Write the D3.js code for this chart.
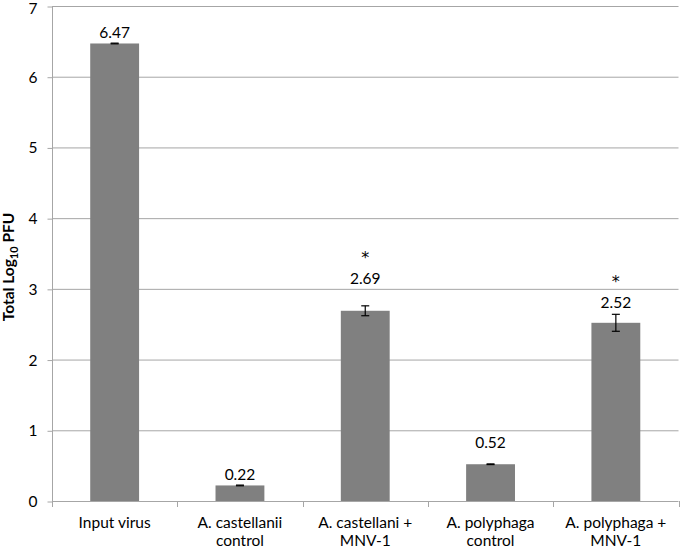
<!DOCTYPE html>
<html><head><meta charset="utf-8">
<script src="https://cdn.jsdelivr.net/npm/d3@7"></script>
<style>body{margin:0;background:#fff}svg{display:block}</style>
</head><body>
<svg id="c" width="680" height="550"></svg>
<script>
const categories = [["Input virus"],["A. castellanii","control"],["A. castellani +","MNV-1"],["A. polyphaga","control"],["A. polyphaga +","MNV-1"]];
const values = [6.47, 0.22, 2.69, 0.52, 2.52];
const errors = [0.005, 0.005, 0.07, 0.005, 0.12];
const valueLabels = ["6.47","0.22","2.69","0.52","2.52"];
const significance = ["", "", "*", "", "*"];
const yTicks = [0,1,2,3,4,5,6,7];

// layout (not data)
const labelGap = [5, 5, 22, 16, 6];
const font = "Lato, 'Liberation Sans', sans-serif";
const fs = 15.5;
const svg = d3.select("#c");
const m = {l:52};
const x = d3.scaleBand().domain(d3.range(values.length)).range([m.l, 678.5]).paddingInner(0.61).paddingOuter(0.305);
const xb = d3.scaleBand().domain(d3.range(values.length)).range([m.l, 678.5]);
const y = d3.scaleLinear().domain([0,7]).range([501, 6]);
const grid = "#a6a6a6";

// gridlines
svg.append("g").selectAll("line").data(yTicks.filter(d=>d>0)).join("line")
  .attr("x1", m.l).attr("x2", 678.5).attr("y1", d=>y(d)+0.5).attr("y2", d=>y(d)+0.5)
  .attr("stroke", grid).attr("stroke-width", 1);

// y axis
const ya = svg.append("g").attr("transform", `translate(${m.l+0.5},0.5)`)
  .call(d3.axisLeft(y).tickValues(yTicks).tickSize(5).tickPadding(10).tickFormat(d3.format("d")));
ya.select(".domain").attr("stroke", grid).attr("d", `M0,${y(7)}V${y(0)}`);
ya.selectAll(".tick line").attr("stroke", grid);
ya.selectAll(".tick text").attr("font-family", font).attr("font-size", fs).attr("fill", "#000")
  .attr("y", d => d === 7 ? 2 : 0);

// bars
svg.append("g").selectAll("rect").data(values).join("rect")
  .attr("x", (d,i)=>x(i)).attr("width", x.bandwidth())
  .attr("y", d=>y(d)).attr("height", d=>y(0)-y(d))
  .attr("fill", "#808080");

// x axis
svg.append("line").attr("x1", m.l).attr("x2", 678.5).attr("y1", y(0)+0.5).attr("y2", y(0)+0.5).attr("stroke", grid);
svg.append("g").selectAll("line").data(d3.range(values.length+1)).join("line")
  .attr("x1", i=>Math.round(m.l + i*xb.step())+0.5).attr("x2", i=>Math.round(m.l + i*xb.step())+0.5)
  .attr("y1", y(0)).attr("y2", y(0)+6).attr("stroke", grid);

// category labels
const cl = svg.append("g").selectAll("text").data(categories).join("text")
  .attr("x", (d,i)=>xb(i)+xb.bandwidth()/2).attr("y", 528)
  .attr("text-anchor","middle").attr("font-family", font).attr("font-size", fs).attr("fill","#000");
cl.each(function(d){
  d3.select(this).selectAll("tspan").data(d).join("tspan")
    .attr("x", d3.select(this).attr("x")).attr("dy", (t,j)=>j===0?0:18).text(t=>t);
});

// error bars
const eb = svg.append("g").attr("stroke","#000").attr("stroke-width",1.2);
values.forEach((v,i)=>{
  const cx = xb(i)+xb.bandwidth()/2;
  const t = y(v+errors[i]), b = y(v-errors[i]);
  eb.append("line").attr("x1",cx).attr("x2",cx).attr("y1",t).attr("y2",b);
  eb.append("line").attr("x1",cx-4).attr("x2",cx+4).attr("y1",t).attr("y2",t);
  eb.append("line").attr("x1",cx-4).attr("x2",cx+4).attr("y1",b).attr("y2",b);
});

// value labels
svg.append("g").selectAll("text").data(values).join("text")
  .attr("x",(d,i)=>xb(i)+xb.bandwidth()/2)
  .attr("y",(d,i)=>y(d+errors[i])-labelGap[i])
  .attr("text-anchor","middle").attr("font-family",font).attr("font-size",fs).attr("fill","#000")
  .text((d,i)=>valueLabels[i]);

// significance
svg.append("g").selectAll("text").data(values).join("text")
  .attr("x",(d,i)=>xb(i)+xb.bandwidth()/2)
  .attr("y",(d,i)=>y(d+errors[i])-labelGap[i]-21)
  .attr("text-anchor","middle").attr("font-family","'DejaVu Sans', sans-serif").attr("font-size",16).attr("fill","#000")
  .text((d,i)=>significance[i]);

// y title
const yt = svg.append("text").attr("transform","translate(14,267) rotate(-90)")
  .attr("text-anchor","middle").attr("font-family",font).attr("font-size",15.5).attr("font-weight","bold").attr("fill","#000");
yt.append("tspan").text("Total Log");
yt.append("tspan").attr("font-size",11).attr("dy",4).text("10");
yt.append("tspan").attr("dy",-4).text(" PFU");
</script>
</body></html>
